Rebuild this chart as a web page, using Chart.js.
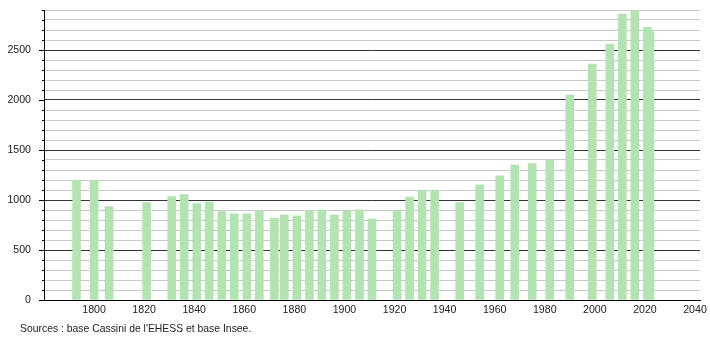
<!DOCTYPE html>
<html>
<head>
<meta charset="utf-8">
<script src="https://cdn.jsdelivr.net/npm/chart.js@4/dist/chart.umd.min.js"></script>
<style>
  body { margin: 0; background: #fff; }
  #wrap { position: relative; width: 710px; height: 340px; }
  #source {
    position: absolute; left: 20px; top: 323px;
    font: 10.4px "Liberation Sans", Arial, sans-serif; color: #222;
  }
</style>
</head>
<body>
<div id="wrap">
  <canvas id="popChart" width="710" height="340"></canvas>
  <div id="source">Sources : base Cassini de l'EHESS et base Insee.</div>
</div>
<script>
// Census years and population
const years = [1793, 1800, 1806, 1821, 1831, 1836, 1841, 1846, 1851, 1856,
  1861, 1866, 1872, 1876, 1881, 1886, 1891, 1896, 1901, 1906,
  1911, 1921, 1926, 1931, 1936, 1946, 1954, 1962, 1968, 1975,
  1982, 1990, 1999, 2006, 2011, 2016, 2021, 2022];
const population = [1200, 1195, 933, 973, 1033, 1053, 963, 980, 883, 861,
  861, 895, 818, 851, 841, 895, 898, 851, 895, 901,
  810, 900, 1028, 1097, 1097, 973, 1152, 1242, 1350, 1363,
  1397, 2050, 2360, 2560, 2860, 2893, 2727, 2685];
const xTickLabels = [1800, 1820, 1840, 1860, 1880, 1900, 1920, 1940, 1960, 1980, 2000, 2020, 2040];

const FONT = "'Liberation Sans', Arial, sans-serif";

// short ticks every 100, longer ones every 500
const yTicksPlugin = {
  id: 'yTicks',
  afterDraw(chart) {
    const y = chart.scales.y;
    const ctx = chart.ctx;
    const x0 = chart.chartArea.left;
    ctx.save();
    ctx.strokeStyle = '#000';
    ctx.lineWidth = 1;
    y.ticks.forEach(t => {
      const py = Math.round(y.getPixelForValue(t.value)) + 0.5;
      const len = t.value % 500 === 0 ? 5 : 2;
      ctx.beginPath();
      ctx.moveTo(x0 - len, py);
      ctx.lineTo(x0, py);
      ctx.stroke();
    });
    ctx.restore();
  }
};

const chart = new Chart(document.getElementById('popChart'), {
  type: 'bar',
  data: {
    datasets: [{
      data: years.map((yr, i) => ({ x: yr, y: population[i] })),
      backgroundColor: 'rgb(178,228,178)',
      barThickness: 8,
      borderWidth: 0
    }]
  },
  options: {
    responsive: false,
    animation: false,
    devicePixelRatio: 1,
    layout: { padding: { top: 10, right: 10, bottom: 20, left: 0 } },
    plugins: { legend: { display: false }, tooltip: { enabled: false } },
    scales: {
      x: {
        type: 'linear',
        min: 1780,
        max: 2042,
        offset: false,
        afterFit: s => { s.height = 20; s.paddingLeft = 0; s.paddingRight = 0; },
        afterBuildTicks: s => { s.ticks = xTickLabels.map(v => ({ value: v })); },
        grid: { display: false, drawTicks: false, offset: false },
        border: { display: true, color: '#000', width: 1 },
        ticks: {
          font: { family: FONT, size: 10.6 },
          color: '#222',
          padding: 4,
          maxRotation: 0,
          autoSkip: false,
          callback: v => String(v)
        }
      },
      y: {
        min: 0,
        max: 2900,
        afterFit: s => { s.width = 44; s.paddingTop = 0; s.paddingBottom = 0; },
        grid: {
          drawTicks: false,
          color: ctx => ctx.tick && ctx.tick.value % 500 === 0 ? '#333' : '#c8c8c8',
          lineWidth: 1
        },
        border: { display: true, color: '#000', width: 1 },
        ticks: {
          stepSize: 100,
          autoSkip: false,
          font: { family: FONT, size: 10.6 },
          color: '#222',
          padding: 13,
          callback: v => (v % 500 === 0 ? v : '')
        }
      }
    }
  },
  plugins: [yTicksPlugin]
});
</script>
</body>
</html>
